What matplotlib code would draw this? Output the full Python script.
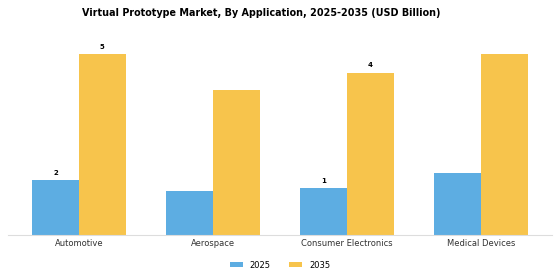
import numpy as np
import matplotlib
matplotlib.use("Agg")
import matplotlib.pyplot as plt

categories = ["Automotive", "Aerospace", "Consumer Electronics", "Medical Devices"]
values_2025 = [1.52, 1.2, 1.3, 1.7]
values_2035 = [5.0, 4.0, 4.48, 5.0]
# only some bars carry a value label in the original
show_2025 = [True, False, True, False]
show_2035 = [True, False, True, False]

BLUE = "#5DADE2"
YELLOW = "#F7C44C"


def main():
    fig = plt.figure(figsize=(5.6, 2.8), dpi=100)
    ax = fig.add_axes([0.014, 0.161, 0.972, 0.714])

    x = np.arange(len(categories))
    w = 0.35
    b1 = ax.bar(x - w / 2, values_2025, w, color=BLUE, label="2025")
    b2 = ax.bar(x + w / 2, values_2035, w, color=YELLOW, label="2035")

    for bars, vals, show in [(b1, values_2025, show_2025), (b2, values_2035, show_2035)]:
        for bar, v, s in zip(bars, vals, show):
            if s:
                ax.annotate("{0:.0f}".format(v), (bar.get_x() + bar.get_width() / 2, v),
                            xytext=(0, 3), textcoords="offset points",
                            ha="center", va="bottom", fontsize=5, fontweight="bold")

    ax.set_xlim(-0.53, 3.53)
    ax.set_ylim(0, 5.52)
    ax.set_xticks(x)
    ax.set_xticklabels(categories, fontsize=6, color="#333333")
    ax.set_yticks([])
    ax.tick_params(axis="x", length=0, pad=3)
    for side in ["top", "right", "left"]:
        ax.spines[side].set_visible(False)
    ax.spines["bottom"].set_color("#dddddd")
    ax.spines["bottom"].set_linewidth(0.8)

    fig.suptitle("Virtual Prototype Market, By Application, 2025-2035 (USD Billion)",
                 fontsize=6.9, fontweight="bold", x=0.466, y=0.972)
    fig.legend(loc="lower center", ncol=2, frameon=False, fontsize=6,
               bbox_to_anchor=(0.5, 0.01), handlelength=1.6, handleheight=0.6,
               columnspacing=2.2)

    fig.savefig("out.png", dpi=100)


if __name__ == "__main__":
    main()
